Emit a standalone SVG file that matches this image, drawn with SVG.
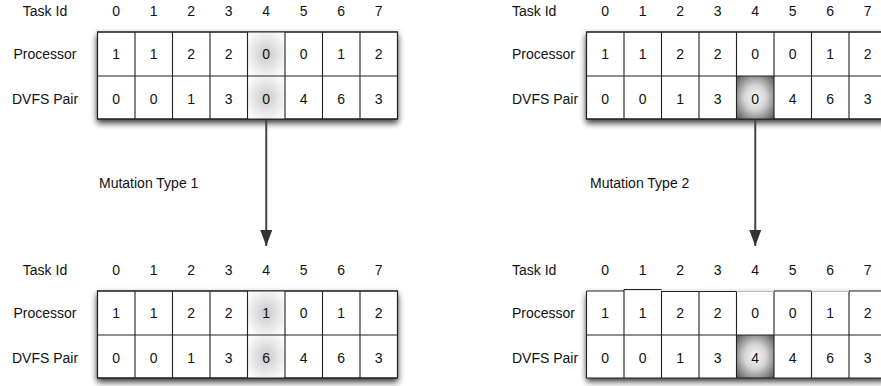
<svg xmlns="http://www.w3.org/2000/svg" width="881" height="386" viewBox="0 0 881 386">
  <style>
    text { font-family: "Liberation Sans", Arial, Helvetica, sans-serif; font-size: 14px; fill: #111; }
    .c { text-anchor: middle; }
    .lbl-l { text-anchor: middle; }
    .grid { fill: none; stroke: #222; stroke-width: 1.1; }
    .frame { fill: #fff; stroke: #222; stroke-width: 1.1; }
    .edge { stroke: #444; stroke-width: 2; fill: none; }
  </style>
  <defs>
    <filter id="shadow" x="-10%" y="-20%" width="120%" height="150%">
      <feDropShadow dx="0" dy="3.5" stdDeviation="3" flood-color="#000" flood-opacity="0.8"/>
    </filter>
    <radialGradient id="soft" cx="50%" cy="50%" r="60%">
      <stop offset="0" stop-color="#c9c9c9"/>
      <stop offset="0.55" stop-color="#e6e6e6"/>
      <stop offset="1" stop-color="#fbfbfb"/>
    </radialGradient>
    <radialGradient id="dark" cx="50%" cy="50%" r="70%">
      <stop offset="0" stop-color="#f6f6f6"/>
      <stop offset="0.4" stop-color="#d6d6d6"/>
      <stop offset="1" stop-color="#555"/>
    </radialGradient>
    <marker id="head" viewBox="0 0 16 12" refX="16" refY="6" markerWidth="16" markerHeight="12" markerUnits="userSpaceOnUse" orient="auto">
      <path d="M0,0 L16,6 L0,12 Z" fill="#333"/>
    </marker>
  </defs>

  <!-- Upper left chromosome -->
  <g id="chromosome-a">
    <text class="lbl-l" x="45" y="16">Task Id</text>
    <text class="lbl-l" x="45" y="59">Processor</text>
    <text class="lbl-l" x="45" y="104">DVFS Pair</text>
    <g class="c">
      <text x="116.25" y="16">0</text><text x="153.75" y="16">1</text><text x="191.25" y="16">2</text><text x="228.75" y="16">3</text>
      <text x="266.25" y="16">4</text><text x="303.75" y="16">5</text><text x="341.25" y="16">6</text><text x="378.75" y="16">7</text>
    </g>
    <rect class="frame" x="97.5" y="32" width="300" height="87" filter="url(#shadow)"/>
    <rect x="247.5" y="32" width="37.5" height="44" fill="url(#soft)"/>
    <rect x="247.5" y="76" width="37.5" height="43" fill="url(#soft)"/>
    <path class="grid" d="M97.5,32 H397.5 V119 H97.5 Z M97.5,76 H397.5 M135,32 V119 M172.5,32 V119 M210,32 V119 M247.5,32 V119 M285,32 V119 M322.5,32 V119 M360,32 V119"/>
    <g class="c">
      <text x="116.25" y="59">1</text><text x="153.75" y="59">1</text><text x="191.25" y="59">2</text><text x="228.75" y="59">2</text>
      <text x="266.25" y="59">0</text><text x="303.75" y="59">0</text><text x="341.25" y="59">1</text><text x="378.75" y="59">2</text>
      <text x="116.25" y="104">0</text><text x="153.75" y="104">0</text><text x="191.25" y="104">1</text><text x="228.75" y="104">3</text>
      <text x="266.25" y="104">0</text><text x="303.75" y="104">4</text><text x="341.25" y="104">6</text><text x="378.75" y="104">3</text>
    </g>
  </g>

  <!-- Lower left chromosome -->
  <g id="chromosome-b">
    <text class="lbl-l" x="45" y="275">Task Id</text>
    <text class="lbl-l" x="45" y="318">Processor</text>
    <text class="lbl-l" x="45" y="363">DVFS Pair</text>
    <g class="c">
      <text x="116.25" y="275">0</text><text x="153.75" y="275">1</text><text x="191.25" y="275">2</text><text x="228.75" y="275">3</text>
      <text x="266.25" y="275">4</text><text x="303.75" y="275">5</text><text x="341.25" y="275">6</text><text x="378.75" y="275">7</text>
    </g>
    <rect class="frame" x="97.5" y="291" width="300" height="87" filter="url(#shadow)"/>
    <rect x="247.5" y="291" width="37.5" height="44" fill="url(#soft)"/>
    <rect x="247.5" y="335" width="37.5" height="43" fill="url(#soft)"/>
    <path class="grid" d="M97.5,291 H397.5 V378 H97.5 Z M97.5,335 H397.5 M135,291 V378 M172.5,291 V378 M210,291 V378 M247.5,291 V378 M285,291 V378 M322.5,291 V378 M360,291 V378"/>
    <g class="c">
      <text x="116.25" y="318">1</text><text x="153.75" y="318">1</text><text x="191.25" y="318">2</text><text x="228.75" y="318">2</text>
      <text x="266.25" y="318">1</text><text x="303.75" y="318">0</text><text x="341.25" y="318">1</text><text x="378.75" y="318">2</text>
      <text x="116.25" y="363">0</text><text x="153.75" y="363">0</text><text x="191.25" y="363">1</text><text x="228.75" y="363">3</text>
      <text x="266.25" y="363">6</text><text x="303.75" y="363">4</text><text x="341.25" y="363">6</text><text x="378.75" y="363">3</text>
    </g>
  </g>

  <!-- Upper right chromosome -->
  <g id="chromosome-c">
    <text x="512" y="16">Task Id</text>
    <text x="512" y="59">Processor</text>
    <text x="512" y="104">DVFS Pair</text>
    <g class="c">
      <text x="605.25" y="16">0</text><text x="642.75" y="16">1</text><text x="680.25" y="16">2</text><text x="717.75" y="16">3</text>
      <text x="755.25" y="16">4</text><text x="792.75" y="16">5</text><text x="830.25" y="16">6</text><text x="867.75" y="16">7</text>
    </g>
    <rect class="frame" x="586.5" y="32" width="300" height="87" filter="url(#shadow)"/>
    <rect x="736.5" y="76" width="37.5" height="43" fill="url(#dark)"/>
    <path class="grid" d="M586.5,32 H886.5 V119 H586.5 Z M586.5,76 H886.5 M624,32 V119 M661.5,32 V119 M699,32 V119 M736.5,32 V119 M774,32 V119 M811.5,32 V119 M849,32 V119"/>
    <g class="c">
      <text x="605.25" y="59">1</text><text x="642.75" y="59">1</text><text x="680.25" y="59">2</text><text x="717.75" y="59">2</text>
      <text x="755.25" y="59">0</text><text x="792.75" y="59">0</text><text x="830.25" y="59">1</text><text x="867.75" y="59">2</text>
      <text x="605.25" y="104">0</text><text x="642.75" y="104">0</text><text x="680.25" y="104">1</text><text x="717.75" y="104">3</text>
      <text x="755.25" y="104">0</text><text x="792.75" y="104">4</text><text x="830.25" y="104">6</text><text x="867.75" y="104">3</text>
    </g>
  </g>

  <!-- Lower right chromosome -->
  <g id="chromosome-d">
    <text x="512" y="275">Task Id</text>
    <text x="512" y="318">Processor</text>
    <text x="512" y="363">DVFS Pair</text>
    <g class="c">
      <text x="605.25" y="275">0</text><text x="642.75" y="275">1</text><text x="680.25" y="275">2</text><text x="717.75" y="275">3</text>
      <text x="755.25" y="275">4</text><text x="792.75" y="275">5</text><text x="830.25" y="275">6</text><text x="867.75" y="275">7</text>
    </g>
    <rect x="586.5" y="291" width="300" height="87" fill="#fff" filter="url(#shadow)"/>
    <rect x="736.5" y="335" width="37.5" height="43" fill="url(#dark)"/>
    <path class="grid" d="M586.5,291 V378 H886.5 M586.5,335 H886.5 M624,289.5 V378 M661.5,291 V378 M699,291 V378 M736.5,291 V378 M774,291 V378 M811.5,291 V378 M849,291 V378"/>
    <!-- cell tops sit at slightly uneven heights -->
    <path class="grid" d="M586.5,291 H624 M624,289.5 H661.5 M661.5,291.5 H736.5 M774,291 H811.5 M849,291 H886.5"/>
    <path d="M736.5,291.5 H774 M811.5,291.5 H849" stroke="#bbb" stroke-width="1"/>
    <g class="c">
      <text x="605.25" y="318">1</text><text x="642.75" y="318">1</text><text x="680.25" y="318">2</text><text x="717.75" y="318">2</text>
      <text x="755.25" y="318">0</text><text x="792.75" y="318">0</text><text x="830.25" y="318">1</text><text x="867.75" y="318">2</text>
      <text x="605.25" y="363">0</text><text x="642.75" y="363">0</text><text x="680.25" y="363">1</text><text x="717.75" y="363">3</text>
      <text x="755.25" y="363">4</text><text x="792.75" y="363">4</text><text x="830.25" y="363">6</text><text x="867.75" y="363">3</text>
    </g>
  </g>

  <!-- Mutation arrows -->
  <g id="connectors">
    <line class="edge" x1="266.25" y1="120" x2="266.25" y2="246" marker-end="url(#head)"/>
    <line class="edge" x1="755.25" y1="120" x2="755.25" y2="246" marker-end="url(#head)"/>
    <text x="99" y="188">Mutation Type 1</text>
    <text x="590" y="188">Mutation Type 2</text>
  </g>
</svg>
